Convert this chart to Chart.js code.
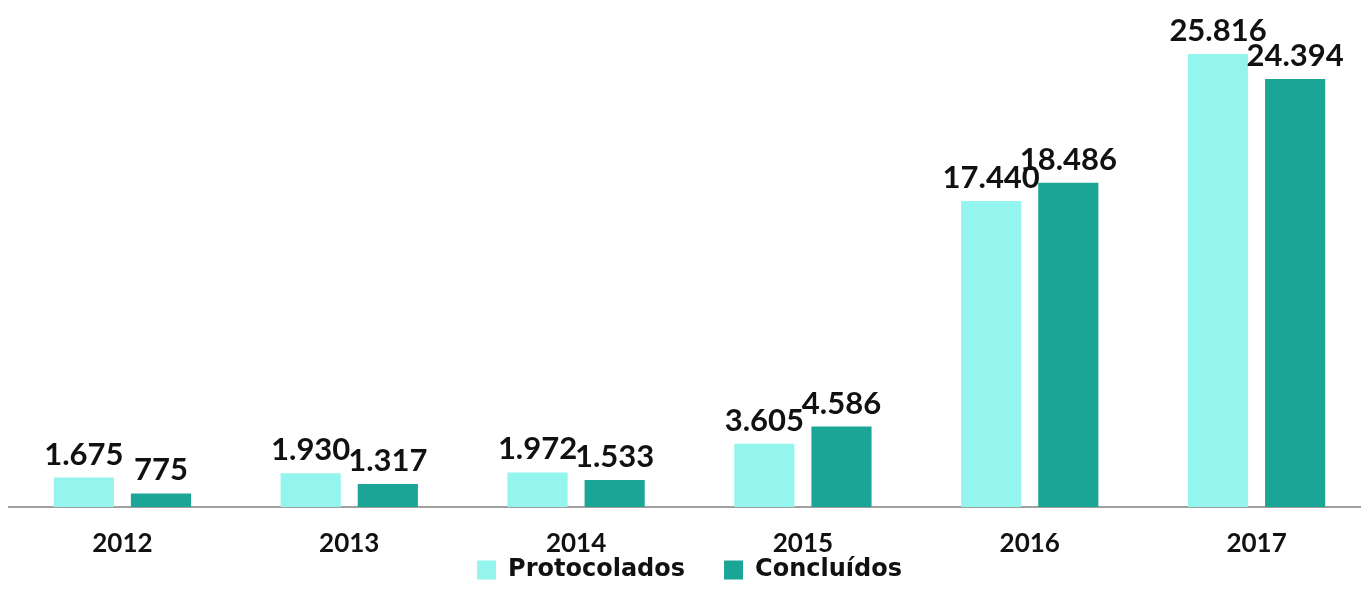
<!DOCTYPE html>
<html>
<head>
<meta charset="utf-8">
<script src="https://cdn.jsdelivr.net/npm/chart.js@4.4.1/dist/chart.umd.min.js"></script>
<style>
  html, body { margin: 0; padding: 0; background: #fff; overflow: hidden; }
  #wrap { width: 1372px; height: 592px; position: relative; }
</style>
</head>
<body>
<div id="wrap"><canvas id="barChart"></canvas></div>
<script>
const anos = ['2012', '2013', '2014', '2015', '2016', '2017'];
const protocolados = [1675, 1930, 1972, 3605, 17440, 25816];
const concluidos = [775, 1317, 1533, 4586, 18486, 24394];

// separador de milhar com ponto (1.675, 25.816)
function fmt(v) {
    return String(v).replace(/\B(?=(\d{3})+(?!\d))/g, '.');
}

const valueLabels = {
    id: 'valueLabels',
    afterDatasetsDraw(chart) {
        const ctx = chart.ctx;
        ctx.save();
        ctx.font = 'bold 31px Lato';
        ctx.fillStyle = '#111';
        ctx.textAlign = 'center';
        ctx.textBaseline = 'alphabetic';
        chart.data.datasets.forEach(function(ds, i) {
            chart.getDatasetMeta(i).data.forEach(function(bar, j) {
                ctx.fillText(fmt(ds.data[j]), bar.x, bar.y - 13);
            });
        });
        ctx.restore();
    }
};

const ctx = document.getElementById('barChart').getContext('2d');
new Chart(ctx, {
    type: 'bar',
    data: {
        labels: anos,
        datasets: [{
            label: 'Protocolados',
            data: protocolados,
            backgroundColor: '#93F5EE',
            categoryPercentage: 0.68,
            barPercentage: 0.78
        },
        {
            label: 'Concluídos',
            data: concluidos,
            backgroundColor: '#1BA596',
            categoryPercentage: 0.68,
            barPercentage: 0.78
        }]
    },
    options: {
        responsive: true,
        maintainAspectRatio: false,
        animation: false,
        layout: {
            padding: { left: 9, right: 2, top: 0, bottom: 0 }
        },
        scales: {
            x: {
                grid: { display: false, drawTicks: false },
                border: { display: true, color: '#a0a0a0', width: 2 },
                ticks: {
                    color: '#111',
                    padding: 21,
                    font: { family: 'Lato', size: 26, weight: 'bold' }
                },
                afterFit: function(scale) {
                    scale.height = 48;
                }
            },
            y: {
                display: false,
                min: 0,
                max: 28900
            }
        },
        plugins: {
            legend: {
                position: 'bottom',
                labels: {
                    color: '#111',
                    boxWidth: 19,
                    boxHeight: 19,
                    padding: 3,
                    font: { family: 'DejaVu Sans', size: 24, weight: 'bold' },
                    // espaço extra entre os itens da legenda
                    generateLabels: function(chart) {
                        const items = Chart.defaults.plugins.legend.labels.generateLabels(chart);
                        items.forEach(function(item, i) {
                            if (i < items.length - 1) item.text += '\u2003\u2002';
                        });
                        return items;
                    }
                }
            },
            tooltip: { enabled: false }
        }
    },
    plugins: [valueLabels]
});
</script>
</body>
</html>
